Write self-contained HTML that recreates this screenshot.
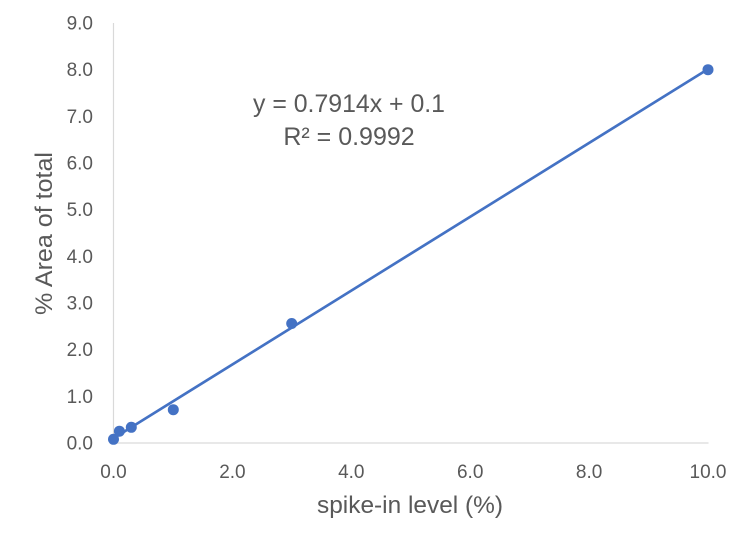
<!DOCTYPE html>
<html>
<head>
<meta charset="utf-8">
<style>
  html, body { margin: 0; padding: 0; background: #ffffff; }
  svg { display: block; }
  text { font-family: "Liberation Sans", "DejaVu Sans", sans-serif; fill: #595959; }
</style>
</head>
<body>
<svg width="750" height="550" viewBox="0 0 750 550" xmlns="http://www.w3.org/2000/svg">
  <rect x="0" y="0" width="750" height="550" fill="#ffffff"/>
  <!-- axes -->
  <line x1="113.5" y1="23" x2="113.5" y2="443" stroke="#D9D9D9" stroke-width="1.2"/>
  <line x1="113" y1="443" x2="708.5" y2="443" stroke="#D9D9D9" stroke-width="1.2"/>

  <!-- y tick labels -->
  <g font-size="19" text-anchor="end">
    <text x="93" y="449.5">0.0</text>
    <text x="93" y="402.8">1.0</text>
    <text x="93" y="356.2">2.0</text>
    <text x="93" y="309.5">3.0</text>
    <text x="93" y="262.9">4.0</text>
    <text x="93" y="216.2">5.0</text>
    <text x="93" y="169.5">6.0</text>
    <text x="93" y="122.9">7.0</text>
    <text x="93" y="76.2">8.0</text>
    <text x="93" y="29.6">9.0</text>
  </g>

  <!-- x tick labels -->
  <g font-size="19" text-anchor="middle">
    <text x="113.5" y="478">0.0</text>
    <text x="232.4" y="478">2.0</text>
    <text x="351.3" y="478">4.0</text>
    <text x="470.2" y="478">6.0</text>
    <text x="589.1" y="478">8.0</text>
    <text x="708" y="478">10.0</text>
  </g>

  <!-- axis titles -->
  <text x="410" y="513" font-size="24.5" text-anchor="middle" textLength="186" lengthAdjust="spacingAndGlyphs">spike-in level (%)</text>
  <text transform="translate(52,233.5) rotate(-90)" x="0" y="0" font-size="24.5" text-anchor="middle" textLength="163" lengthAdjust="spacingAndGlyphs">% Area of total</text>

  <!-- trendline -->
  <line x1="113.5" y1="438.3" x2="708" y2="69.1" stroke="#4472C4" stroke-width="2.7" stroke-linecap="round"/>

  <!-- data points -->
  <g fill="#4472C4">
    <circle cx="113.5" cy="439.3" r="5.5"/>
    <circle cx="119.4" cy="431.2" r="5.5"/>
    <circle cx="131.3" cy="427.3" r="5.5"/>
    <circle cx="173.3" cy="409.7" r="5.5"/>
    <circle cx="291.7" cy="323.5" r="5.5"/>
    <circle cx="708" cy="69.7" r="5.5"/>
  </g>

  <!-- equation -->
  <text x="349" y="112" font-size="25" text-anchor="middle" textLength="192" lengthAdjust="spacingAndGlyphs">y = 0.7914x + 0.1</text>
  <text x="349" y="145" font-size="25" text-anchor="middle">R² = 0.9992</text>
</svg>
</body>
</html>
